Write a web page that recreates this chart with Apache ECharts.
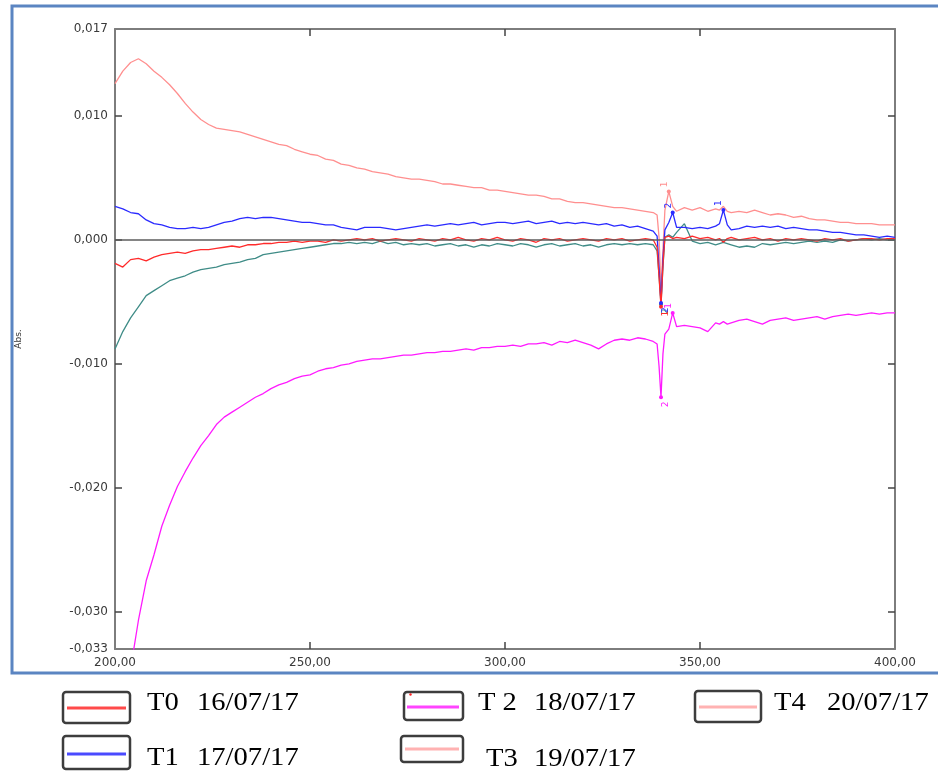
<!DOCTYPE html>
<html>
<head>
<meta charset="utf-8">
<script src="https://cdn.jsdelivr.net/npm/echarts@6/dist/echarts.min.js"></script>
<style>
  html, body { margin: 0; padding: 0; background: #fff; }
  #chart { width: 938px; height: 771px; }
</style>
</head>
<body>
<div id="chart"></div>
<script>
// Wavelength grid (nm); denser around the 340 nm and 356 nm artefacts
const wavelengths = [
  200,202,204,206,208,210,212,214,216,218,
  220,222,224,226,228,230,232,234,236,238,
  240,242,244,246,248,250,252,254,256,258,
  260,262,264,266,268,270,272,274,276,278,
  280,282,284,286,288,290,292,294,296,298,
  300,302,304,306,308,310,312,314,316,318,
  320,322,324,326,328,330,332,334,336,
  338,339,339.5,340,340.5,341,342,343,344,
  346,348,350,352,354,355,356,357,358,
  360,362,364,366,368,370,372,374,376,378,
  380,382,384,386,388,390,392,394,396,398,400
];

// Absorbance of each sample, in mAbs (x 0.001 Abs)
const t0 = [
  -1.9,-2.2,-1.6,-1.5,-1.7,-1.4,-1.2,-1.1,-1.0,-1.1,
  -0.9,-0.8,-0.8,-0.7,-0.6,-0.5,-0.6,-0.4,-0.4,-0.3,
  -0.3,-0.2,-0.2,-0.1,-0.2,-0.1,-0.1,-0.2,0.0,-0.1,
  0.0,0.1,0.0,0.1,-0.1,0.0,0.1,0.0,-0.1,0.1,
  0.0,-0.1,0.1,0.0,0.2,0.0,-0.1,0.1,0.0,0.2,
  0.0,-0.1,0.1,0.0,-0.2,0.1,0.0,0.1,-0.1,0.0,
  0.1,0.0,-0.1,0.1,0.0,0.1,-0.1,0.0,0.1,
  0.0,-0.6,-3.0,-5.4,-2.0,0.2,0.3,0.1,0.2,
  0.1,0.3,0.1,0.2,0.0,0.1,-0.2,0.1,0.2,
  0.0,0.1,0.2,0.0,0.1,-0.1,0.1,0.0,0.1,0.0,
  -0.1,0.1,0.0,0.1,-0.1,0.0,0.1,0.1,0.0,0.1,0.1
];
const t1 = [
  2.7,2.5,2.2,2.1,1.6,1.3,1.2,1.0,0.9,0.9,
  1.0,0.9,1.0,1.2,1.4,1.5,1.7,1.8,1.7,1.8,
  1.8,1.7,1.6,1.5,1.4,1.4,1.3,1.2,1.2,1.0,
  0.9,0.8,1.0,1.0,1.0,0.9,0.8,0.9,1.0,1.1,
  1.2,1.1,1.2,1.3,1.2,1.3,1.4,1.2,1.3,1.4,
  1.4,1.3,1.4,1.5,1.3,1.4,1.5,1.3,1.4,1.3,
  1.4,1.3,1.2,1.3,1.1,1.2,1.0,1.1,0.9,
  0.7,0.3,-2.2,-5.1,-1.5,0.8,1.4,2.2,1.0,
  1.0,0.9,1.0,0.9,1.1,1.3,2.4,1.2,0.8,
  0.9,1.1,1.0,1.1,1.0,1.1,0.9,1.0,0.9,0.8,
  0.8,0.7,0.6,0.6,0.5,0.4,0.4,0.3,0.2,0.3,0.2
];
const t2 = [
  null,null,-34.6,-30.7,-27.5,-25.4,-23.1,-21.4,-19.9,-18.7,
  -17.6,-16.6,-15.8,-14.9,-14.3,-13.9,-13.5,-13.1,-12.7,-12.4,
  -12.0,-11.7,-11.5,-11.2,-11.0,-10.9,-10.6,-10.4,-10.3,-10.1,
  -10.0,-9.8,-9.7,-9.6,-9.6,-9.5,-9.4,-9.3,-9.3,-9.2,
  -9.1,-9.1,-9.0,-9.0,-8.9,-8.8,-8.9,-8.7,-8.7,-8.6,
  -8.6,-8.5,-8.6,-8.4,-8.4,-8.3,-8.5,-8.2,-8.3,-8.1,
  -8.3,-8.5,-8.8,-8.4,-8.1,-8.0,-8.1,-7.9,-8.0,
  -8.2,-8.4,-10.2,-12.7,-9.2,-7.6,-7.2,-5.9,-7.0,
  -6.9,-7.0,-7.1,-7.4,-6.7,-6.8,-6.6,-6.8,-6.7,
  -6.5,-6.4,-6.6,-6.8,-6.5,-6.4,-6.3,-6.5,-6.4,-6.3,
  -6.2,-6.4,-6.2,-6.1,-6.0,-6.1,-6.0,-5.9,-6.0,-5.9,-5.9
];
const t3 = [
  -8.8,-7.4,-6.3,-5.4,-4.5,-4.1,-3.7,-3.3,-3.1,-2.9,
  -2.6,-2.4,-2.3,-2.2,-2.0,-1.9,-1.8,-1.6,-1.5,-1.2,
  -1.1,-1.0,-0.9,-0.8,-0.7,-0.6,-0.5,-0.4,-0.3,-0.3,
  -0.2,-0.3,-0.2,-0.3,-0.1,-0.3,-0.2,-0.4,-0.3,-0.4,
  -0.3,-0.5,-0.4,-0.3,-0.5,-0.4,-0.6,-0.4,-0.5,-0.3,
  -0.4,-0.5,-0.3,-0.4,-0.6,-0.4,-0.3,-0.5,-0.4,-0.3,
  -0.5,-0.4,-0.6,-0.4,-0.3,-0.4,-0.3,-0.4,-0.3,
  -0.4,-0.9,-2.9,-5.2,-2.2,0.2,0.4,0.2,0.6,
  1.3,-0.1,-0.3,-0.2,-0.4,-0.3,-0.2,-0.3,-0.4,
  -0.6,-0.5,-0.6,-0.3,-0.4,-0.3,-0.2,-0.3,-0.2,-0.1,
  -0.2,-0.1,-0.2,0.0,-0.1,0.0,0.1,0.0,0.1,0.0,0.0
];
const t4 = [
  12.6,13.6,14.3,14.6,14.2,13.6,13.1,12.5,11.8,11.0,
  10.3,9.7,9.3,9.0,8.9,8.8,8.7,8.5,8.3,8.1,
  7.9,7.7,7.6,7.3,7.1,6.9,6.8,6.5,6.4,6.1,
  6.0,5.8,5.7,5.5,5.4,5.3,5.1,5.0,4.9,4.9,
  4.8,4.7,4.5,4.5,4.4,4.3,4.2,4.2,4.0,4.0,
  3.9,3.8,3.7,3.6,3.6,3.5,3.3,3.3,3.1,3.0,
  3.0,2.9,2.8,2.7,2.6,2.6,2.5,2.4,2.3,
  2.2,2.0,0.2,-4.0,-0.8,2.4,3.9,2.7,2.3,
  2.6,2.4,2.6,2.3,2.5,2.4,2.7,2.3,2.2,
  2.3,2.2,2.4,2.2,2.0,2.1,2.0,1.8,1.9,1.7,
  1.6,1.6,1.5,1.4,1.4,1.3,1.3,1.3,1.2,1.2,1.2
];

// Peak-pick numbering: [wavelength, peak number, label side]
const peaksT0 = [[340, '1', 'bottom']];
const peaksT1 = [[343, '2', 'top'], [356, '1', 'top'], [340, '2', 'bottom']];
const peaksT2 = [[343, '1', 'top'], [340, '2', 'bottom']];
const peaksT3 = [[340, '2', 'bottom']];
const peaksT4 = [[342, '1', 'top']];

// Axis ticks and labels
const xTicks = [200, 250, 300, 350, 400];
const yLabelValues = [-0.033, -0.03, -0.02, -0.01, 0, 0.01, 0.017];
const yTickValues = [-0.03, -0.02, -0.01, 0, 0.01];

const legendItems = [
  { name: 'T0', date: '16/07/17' },
  { name: 'T1', date: '17/07/17' },
  { name: 'T 2', date: '18/07/17' },
  { name: 'T3', date: '19/07/17' },
  { name: 'T4', date: '20/07/17' }
];

const colors = {
  t0: '#ff2b2b',
  t1: '#2a2aff',
  t2: '#ff1aff',
  t3: '#3f8c87',
  t4: '#ff8f8f'
};

function toPairs(vals) {
  const out = [];
  wavelengths.forEach((w, i) => {
    if (vals[i] !== null) out.push([w, vals[i] / 1000]);
  });
  return out;
}

function peakMarks(vals, peaks, color) {
  return {
    symbol: 'circle',
    symbolSize: 4,
    silent: true,
    itemStyle: { color: color },
    label: {
      show: true, color: color, fontSize: 9, fontFamily: 'DejaVu Sans',
      rotate: 90, distance: 5
    },
    data: peaks.map(([w, text, pos]) => ({
      coord: [w, vals[wavelengths.indexOf(w)] / 1000],
      label: { formatter: text, position: pos }
    }))
  };
}

function lineSeries(name, vals, color, peaks) {
  return {
    name: name,
    type: 'line',
    data: toPairs(vals),
    showSymbol: false,
    symbol: 'none',
    lineStyle: { color: color, width: 1.3 },
    itemStyle: { color: color },
    animation: false,
    markPoint: peakMarks(vals, peaks, color)
  };
}

const fmtAbs = v => Math.abs(v) < 1e-9 ? '0,000' : v.toFixed(3).replace('.', ',');
const fmtNm = v => v.toFixed(2).replace('.', ',');

const axisGray = '#7d7d7d';
const labelFont = { fontFamily: 'DejaVu Sans', fontSize: 12, color: '#3a3a3a' };

const series = [
  lineSeries('T4', t4, colors.t4, peaksT4),
  lineSeries('T3', t3, colors.t3, peaksT3),
  lineSeries('T2', t2, colors.t2, peaksT2),
  lineSeries('T1', t1, colors.t1, peaksT1),
  lineSeries('T0', t0, colors.t0, peaksT0)
];
// zero reference line
series[0].markLine = {
  silent: true, symbol: 'none', animation: false,
  label: { show: false },
  lineStyle: { color: '#5c5c5c', width: 1.5, type: 'solid' },
  data: [{ yAxis: 0 }]
};

// Legend boxes drawn below the framed plot
const legendLayout = [
  { box: [63, 692, 67, 31], line: [67, 126, 708], nameX: 147, dateX: 197, textY: 703 },
  { box: [63, 736, 67, 33], line: [67, 126, 754], nameX: 147, dateX: 197, textY: 758 },
  { box: [404, 692, 59, 28], line: [407, 459, 707], nameX: 478, dateX: 534, textY: 703 },
  { box: [401, 736, 62, 26], line: [405, 459, 749], nameX: 486, dateX: 534, textY: 759 },
  { box: [695, 691, 66, 31], line: [699, 757, 707], nameX: 774, dateX: 827, textY: 703.5 }
];
const legendColors = ['#ff4a4a', '#4a4aff', '#ff44ff', '#ffb2b2', '#ffb2b2'];

const graphics = [
  {
    type: 'rect', silent: true, z: 0,
    shape: { x: 12, y: 6, width: 940, height: 667 },
    style: { fill: 'none', stroke: '#5b85c2', lineWidth: 3 }
  }
];
legendItems.forEach((item, i) => {
  const L = legendLayout[i];
  graphics.push({
    type: 'rect', silent: true,
    shape: { x: L.box[0], y: L.box[1], width: L.box[2], height: L.box[3], r: 3 },
    style: { fill: '#fff', stroke: '#3d3d3d', lineWidth: 2.5 }
  });
  graphics.push({
    type: 'line', silent: true,
    shape: { x1: L.line[0], y1: L.line[2], x2: L.line[1], y2: L.line[2] },
    style: { stroke: legendColors[i], lineWidth: 3 }
  });
  graphics.push({
    type: 'text', silent: true, x: L.nameX, y: L.textY, scaleX: 1.1,
    style: { text: item.name, fontFamily: 'Liberation Serif', fontSize: 26, fill: '#000',
             align: 'left', verticalAlign: 'middle' }
  });
  graphics.push({
    type: 'text', silent: true, x: L.dateX, y: L.textY, scaleX: 1.1,
    style: { text: item.date, fontFamily: 'Liberation Serif', fontSize: 26, fill: '#000',
             align: 'left', verticalAlign: 'middle' }
  });
});
graphics.push({
  type: 'circle', silent: true,
  shape: { cx: 410.5, cy: 694.5, r: 1.2 },
  style: { fill: '#ff2020' }
});

const chart = echarts.init(document.getElementById('chart'));
chart.setOption({
  animation: false,
  backgroundColor: '#fff',
  grid: { left: 115, right: 43, top: 29, bottom: 122 },
  xAxis: [
    {
      type: 'value', min: 200, max: 400, interval: 50, position: 'bottom',
      axisLine: { onZero: false, lineStyle: { color: axisGray, width: 2 } },
      axisTick: { inside: true, length: 7, lineStyle: { color: '#444', width: 1.5 },
                  customValues: xTicks.slice(1, -1) },
      axisLabel: Object.assign({ margin: 8, formatter: fmtNm, customValues: xTicks }, labelFont),
      splitLine: { show: false }
    },
    {
      type: 'value', min: 200, max: 400, interval: 50, position: 'top',
      axisLine: { onZero: false, lineStyle: { color: axisGray, width: 2 } },
      axisTick: { inside: true, length: 7, lineStyle: { color: '#444', width: 1.5 },
                  customValues: xTicks.slice(1, -1) },
      axisLabel: { show: false },
      splitLine: { show: false }
    }
  ],
  yAxis: [
    {
      type: 'value', min: -0.033, max: 0.017, position: 'left',
      name: 'Abs.', nameLocation: 'middle', nameGap: 92, nameRotate: 90,
      nameTextStyle: { fontFamily: 'DejaVu Sans', fontSize: 9, color: '#333' },
      axisLine: { onZero: false, lineStyle: { color: axisGray, width: 2 } },
      axisTick: { inside: true, length: 7, lineStyle: { color: '#444', width: 1.5 },
                  customValues: yTickValues },
      axisLabel: Object.assign({ margin: 7, formatter: fmtAbs, customValues: yLabelValues }, labelFont),
      splitLine: { show: false }
    },
    {
      type: 'value', min: -0.033, max: 0.017, position: 'right',
      axisLine: { onZero: false, lineStyle: { color: axisGray, width: 2 } },
      axisTick: { inside: true, length: 7, lineStyle: { color: '#444', width: 1.5 },
                  customValues: yTickValues },
      axisLabel: { show: false },
      splitLine: { show: false }
    }
  ],
  series: series,
  graphic: graphics
});
</script>
</body>
</html>
